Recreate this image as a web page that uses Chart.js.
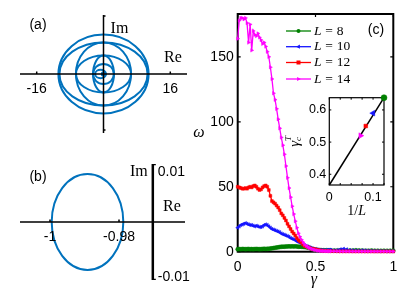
<!DOCTYPE html>
<html>
<head>
<meta charset="utf-8">
<script src="https://cdn.jsdelivr.net/npm/chart.js@4.4.1/dist/chart.umd.min.js"></script>
<style>
  html, body { margin: 0; padding: 0; background: #fff; }
  #wrap { position: relative; width: 415px; height: 297px; overflow: hidden; background: #fff; }
  #wrap canvas { position: absolute; left: 0; top: 0; }
</style>
</head>
<body>
<div id="wrap">
  <canvas id="panelA" width="415" height="297"></canvas>
  <canvas id="panelB" width="415" height="297"></canvas>
  <canvas id="panelC" width="415" height="297"></canvas>
  <canvas id="inset" width="415" height="297"></canvas>
</div>
<script>
// ---- data: panel (a), nested spectra ellipses ----
const aCenterRe = [0, 0, 0, 0, 0, 0, -0.7, 0];
const aCenterIm = [0, 0, 0, 0, 0, 0, 0, 0];
const aRadiusRe = [10.8, 10.55, 6.6, 6.6, 2.5, 2.5, 1.3, 0.4];
const aRadiusIm = [9.42, 7.55, 7.55, 4.4, 4.4, 2.4, 1.0, 0.4];
const aTicks = [-16, 16];

// ---- data: panel (b) ----
const bCenterRe = [-0.98913];
const bCenterIm = [0];
const bRadiusRe = [0.01038];
const bRadiusIm = [0.0091];
const bTicksRe = [-1, -0.98];
const bTickLabelsRe = ['-1', '-0.98'];
const bTicksIm = [0.01, -0.01];
const bTickLabelsIm = ['0.01', '-0.01'];
const bImAxisRe = -0.9702;

// ---- data: panel (c) ----
const gamma = [0, 0.01, 0.02, 0.03, 0.04, 0.05, 0.06, 0.07, 0.08, 0.09,
  0.10, 0.11, 0.12, 0.13, 0.14, 0.15, 0.16, 0.17, 0.18, 0.19,
  0.20, 0.21, 0.22, 0.23, 0.24, 0.25, 0.26, 0.27, 0.28, 0.29,
  0.30, 0.31, 0.32, 0.33, 0.34, 0.35, 0.36, 0.37, 0.38, 0.39,
  0.40, 0.41, 0.42, 0.43, 0.44, 0.45, 0.46, 0.47, 0.48, 0.49,
  0.50, 0.51, 0.52, 0.53, 0.54, 0.55, 0.56, 0.57, 0.58, 0.59,
  0.60, 0.62, 0.64, 0.66, 0.68, 0.70, 0.72, 0.74, 0.76, 0.78,
  0.80, 0.82, 0.84, 0.86, 0.88, 0.90, 0.92, 0.94, 0.96, 0.98, 1.00];

const omegaL8 = [1.9, 2.0, 1.9, 2.1, 2.0, 1.9, 2.0, 2.1, 1.9, 2.0,
  1.9, 2.0, 2.1, 2.0, 1.9, 2.0, 2.1, 2.2, 2.1, 2.2,
  2.3, 2.4, 2.6, 2.8, 3.0, 3.2, 3.4, 3.6, 3.8, 3.9,
  3.9, 4.0, 4.0, 4.1, 4.0, 4.1, 4.0, 4.1, 4.0, 3.9,
  3.9, 3.8, 3.7, 3.6, 3.4, 3.2, 2.9, 2.5, 2.1, 1.7,
  1.4, 1.3, 1.2, 1.2, 1.1, 1.1, 1.0, 1.1, 1.0, 1.0,
  1.0, 0.9, 1.0, 1.1, 1.0, 0.9, 0.9, 1.0, 1.1, 1.0,
  0.9, 0.8, 0.8, 0.9, 0.8, 0.8, 0.7, 0.8, 0.7, 0.8, 0.8];

const omegaL10 = [18.5, 19.5, 20.5, 21, 21.5, 22, 21.5, 21, 20.5, 20.5,
  20, 19.5, 20, 19.5, 19, 19, 19.5, 20.5, 21, 20.5,
  19.5, 18.5, 17.5, 17, 16.5, 16, 15.5, 15, 14, 13.5,
  13, 12.5, 12, 11.5, 10.5, 10, 9.5, 9, 8, 7.5,
  7, 6.5, 5.5, 5, 4.5, 4, 3.5, 3, 2.5, 2.2,
  2, 1.8, 1.5, 1.3, 1.2, 1.1, 1.0, 1.2, 1.4, 1.5,
  1.3, 1.0, 1.2, 1.8, 2.2, 1.8, 1.2, 1.0, 0.9, 0.8,
  1.0, 0.9, 0.7, 0.6, 0.5, 0.5, 0.4, 0.4, 0.3, 0.3, 0.3];

const omegaL12 = [50, 49.5, 49, 48.5, 48.5, 49, 48.5, 49.5, 50, 49.5,
  50.5, 51, 50, 48.5, 47.5, 48, 49.5, 50.5, 51, 50,
  47.5, 43, 39, 38, 37, 35.5, 34, 32, 29.5, 28,
  26, 24, 21.5, 19.5, 17.5, 15.5, 14, 12.5, 10.5, 9,
  8, 7, 5.5, 4.5, 4, 3.5, 3, 2.5, 2.2, 2,
  1.8, 1.5, 1.2, 1.0, 0.8, 0.7, 0.6, 0.5, 0.5, 0.4,
  0.4, 0.4, 0.3, 0.3, 0.3, 0.3, 0.3, 0.2, 0.2, 0.2,
  0.2, 0.2, 0.2, 0.2, 0.2, 0.2, 0.2, 0.2, 0.2, 0.2, 0.2];

const omegaL14 = [164, 178, 180, 180, 179, 180, 176, 161, 175, 155,
  170, 167, 166, 168, 165, 163, 160, 161, 158, 154,
  150, 142, 133, 122, 117, 110, 102, 95, 88, 82,
  75, 66, 57, 49, 42, 35, 29, 23.5, 18.5, 14.2,
  11.5, 9.2, 7.3, 5.5, 4.5, 3.6, 2.9, 2.4, 1.9, 1.5,
  1.2, 0.9, 0.7, 0.6, 0.5, 0.5, 0.4, 0.4, 0.3, 0.3,
  0.3, 0.3, 0.3, 0.2, 0.2, 0.2, 0.2, 0.2, 0.2, 0.2,
  0.2, 0.2, 0.2, 0.2, 0.2, 0.2, 0.2, 0.2, 0.2, 0.2, 0.2];

const sizeLabels = ['8', '10', '12', '14'];
const gammaTicks = [0, 0.5, 1];
const gammaTickLabels = ['0', '0.5', '1'];
const omegaTicks = [0, 50, 100, 150];

// ---- data: inset ----
const invL = [0.125, 0.1, 1 / 12, 1 / 14];
const gammaT = [0.638, 0.59, 0.55, 0.52];
const fitInvL = [0, 0.125];
const fitGammaT = [0.3666, 0.638];
const insetTicksX = [0, 0.025, 0.05, 0.075, 0.1, 0.125];
const insetLabelsX = {0: '0', 0.1: '0.1'};
const insetTicksY = [0.4, 0.5, 0.6];

const BLUE_M = '#0072BD';
const GREEN = '#008000';
const BLUE = '#1414ff';
const RED = '#ff0000';
const MAGENTA = '#ff00ff';
const SANS = '"Liberation Sans", Arial, sans-serif';
const SERIF = '"Liberation Serif", "Times New Roman", serif';

const seriesColors = [GREEN, BLUE, RED, MAGENTA];
const seriesStyles = ['circle', 'triangle', 'rect', 'triangle'];
const seriesRot = [0, -90, 0, 90];
const seriesData = [omegaL8, omegaL10, omegaL12, omegaL14];

function text(ctx, str, x, y, font, align, base) {
  ctx.font = font;
  ctx.textAlign = align || 'center';
  ctx.textBaseline = base || 'middle';
  ctx.fillStyle = '#000';
  ctx.fillText(str, x, y);
}

function marker(ctx, style, x, y, r, rot, color) {
  ctx.save();
  ctx.fillStyle = color;
  ctx.translate(x, y);
  ctx.rotate(rot * Math.PI / 180);
  ctx.beginPath();
  if (style === 'circle') {
    ctx.arc(0, 0, r, 0, Math.PI * 2);
  } else if (style === 'rect') {
    ctx.rect(-r, -r, 2 * r, 2 * r);
  } else {
    ctx.moveTo(0, -r * 1.2);
    ctx.lineTo(r * 1.05, r * 0.7);
    ctx.lineTo(-r * 1.05, r * 0.7);
    ctx.closePath();
  }
  ctx.fill();
  ctx.restore();
}

function drawEllipses(chart, cRe, cIm, rRe, rIm) {
  const {ctx, scales: {x, y}} = chart;
  ctx.save();
  ctx.strokeStyle = BLUE_M;
  ctx.lineWidth = 2;
  for (let i = 0; i < cRe.length; i++) {
    const cx = x.getPixelForValue(cRe[i]);
    const cy = y.getPixelForValue(cIm[i]);
    const rx = Math.abs(x.getPixelForValue(cRe[i] + rRe[i]) - cx);
    const ry = Math.abs(y.getPixelForValue(cIm[i] + rIm[i]) - cy);
    ctx.beginPath();
    ctx.ellipse(cx, cy, rx, ry, 0, 0, Math.PI * 2);
    ctx.stroke();
  }
  ctx.restore();
}

function baseOptions(pad, xr, yr) {
  return {
    responsive: false,
    animation: false,
    devicePixelRatio: 1,
    layout: {padding: pad},
    plugins: {legend: {display: false}, tooltip: {enabled: false}},
    scales: {
      x: {type: 'linear', display: false, min: xr[0], max: xr[1]},
      y: {type: 'linear', display: false, min: yr[0], max: yr[1]}
    }
  };
}

// ---- panel (a) ----
new Chart(document.getElementById('panelA'), {
  type: 'scatter',
  data: {datasets: []},
  options: baseOptions({left: 20, top: 15, right: 415 - 187, bottom: 297 - 133}, [-20, 20], [-14.1, 14.1]),
  plugins: [{
    id: 'ellipsesA',
    afterDraw(chart) {
      const {ctx, chartArea: a, scales: {x, y}} = chart;
      drawEllipses(chart, aCenterRe, aCenterIm, aRadiusRe, aRadiusIm);
      const x0 = x.getPixelForValue(0), y0 = y.getPixelForValue(0);
      ctx.save();
      ctx.strokeStyle = '#000';
      ctx.lineWidth = 1.5;
      ctx.beginPath();
      ctx.moveTo(a.left, y0); ctx.lineTo(a.right, y0);
      ctx.moveTo(x0, a.top); ctx.lineTo(x0, a.bottom);
      aTicks.forEach(t => {
        const px = x.getPixelForValue(t);
        ctx.moveTo(px, y0); ctx.lineTo(px, y0 - 2.5);
      });
      ctx.moveTo(x0, a.top + 1); ctx.lineTo(x0 + 2, a.top + 1);
      ctx.moveTo(x0, a.bottom - 3); ctx.lineTo(x0 + 2, a.bottom - 3);
      ctx.stroke();
      ctx.restore();
      aTicks.forEach(t => text(ctx, t < 0 ? '-' + Math.abs(t) : String(t), x.getPixelForValue(t), y0 + 15, '14px ' + SANS));
      text(ctx, 'Im', x0 + 16, 29, '16px ' + SERIF);
      text(ctx, 'Re', a.right - 14, 58, '16px ' + SERIF);
      text(ctx, '(a)', 38, 25, '14px ' + SANS);
    }
  }]
});

// ---- panel (b) ----
new Chart(document.getElementById('panelB'), {
  type: 'scatter',
  data: {datasets: []},
  options: baseOptions({left: 20, top: 164, right: 415 - 185, bottom: 297 - 280}, [-1.0087, -0.96087], [-0.011, 0.011]),
  plugins: [{
    id: 'ellipsesB',
    afterDraw(chart) {
      const {ctx, chartArea: a, scales: {x, y}} = chart;
      drawEllipses(chart, bCenterRe, bCenterIm, bRadiusRe, bRadiusIm);
      const y0 = y.getPixelForValue(0), xa = x.getPixelForValue(bImAxisRe);
      ctx.save();
      ctx.strokeStyle = '#000';
      ctx.lineWidth = 1.5;
      ctx.beginPath();
      ctx.moveTo(a.left, y0); ctx.lineTo(a.right, y0);
      bTicksRe.forEach(t => {
        const px = x.getPixelForValue(t);
        ctx.moveTo(px, y0); ctx.lineTo(px, y0 - 2.5);
      });
      ctx.stroke();
      ctx.lineWidth = 2.5;
      ctx.beginPath();
      ctx.moveTo(xa, a.top); ctx.lineTo(xa, a.bottom);
      ctx.stroke();
      ctx.lineWidth = 1.2;
      ctx.beginPath();
      ctx.moveTo(xa, a.top + 0.6); ctx.lineTo(xa + 3, a.top + 0.6);
      ctx.moveTo(xa, a.bottom - 0.6); ctx.lineTo(xa + 3, a.bottom - 0.6);
      ctx.stroke();
      ctx.restore();
      bTicksRe.forEach((t, i) => text(ctx, bTickLabelsRe[i], x.getPixelForValue(t), y0 + 15, '14px ' + SANS));
      bTicksIm.forEach((t, i) => text(ctx, bTickLabelsIm[i], xa + 5, y.getPixelForValue(t) + (t > 0 ? 3 : 2), '14px ' + SANS, 'left'));
      text(ctx, 'Im', xa - 14, 172, '16px ' + SERIF);
      text(ctx, 'Re', a.right - 13, 207, '16px ' + SERIF);
      text(ctx, '(b)', 38, 177, '14px ' + SANS);
    }
  }]
});

// ---- panel (c) ----
const cOpts = baseOptions({left: 237.7, top: 14, right: 415 - 393.3, bottom: 297 - 251.7}, [0, 1], [0, 183]);
new Chart(document.getElementById('panelC'), {
  type: 'line',
  data: {
    datasets: seriesData.map((vals, i) => ({
      data: vals.map((v, j) => ({x: gamma[j], y: v})),
      borderColor: seriesColors[i],
      backgroundColor: seriesColors[i],
      borderWidth: 1.3,
      pointRadius: 2,
      pointStyle: seriesStyles[i],
      pointRotation: seriesRot[i],
      pointBackgroundColor: seriesColors[i],
      pointBorderColor: seriesColors[i],
      pointBorderWidth: 0.5,
      tension: 0,
      clip: false,
      order: 3 - i
    }))
  },
  options: cOpts,
  plugins: [{
    id: 'frameC',
    beforeDatasetsDraw(chart) {
      const {ctx, chartArea: a, scales: {x, y}} = chart;
      ctx.save();
      ctx.strokeStyle = '#000';
      ctx.lineWidth = 2;
      ctx.strokeRect(a.left, a.top, a.right - a.left, a.bottom - a.top);
      ctx.lineWidth = 1.2;
      ctx.beginPath();
      gammaTicks.forEach(t => {
        const px = x.getPixelForValue(t);
        ctx.moveTo(px, a.bottom); ctx.lineTo(px, a.bottom - 3);
        ctx.moveTo(px, a.top); ctx.lineTo(px, a.top + 3);
      });
      omegaTicks.forEach(t => {
        const py = y.getPixelForValue(t);
        ctx.moveTo(a.left, py); ctx.lineTo(a.left + 3, py);
        ctx.moveTo(a.right, py); ctx.lineTo(a.right - 3, py);
      });
      ctx.stroke();
      ctx.restore();
    },
    afterDraw(chart) {
      const {ctx, chartArea: a, scales: {x, y}} = chart;
      gammaTicks.forEach((t, i) => text(ctx, gammaTickLabels[i], x.getPixelForValue(t), a.bottom + 15, '14px ' + SANS));
      omegaTicks.forEach(t => text(ctx, String(t), a.left - 4, y.getPixelForValue(t), '14px ' + SANS, 'right'));
      text(ctx, '\u03b3', (a.left + a.right) / 2 - 1.5, 284, 'italic 16px ' + SERIF, 'center', 'alphabetic');
      text(ctx, '\u03c9', 199, 133, 'italic 16px ' + SERIF);
      text(ctx, '(c)', 376, 30, '14px ' + SANS);
      // legend
      const rows = [31, 46.7, 62.5, 79];
      const fs = 13.5;
      rows.forEach((ry, i) => {
        ctx.save();
        ctx.strokeStyle = seriesColors[i];
        ctx.lineWidth = 1.3;
        ctx.beginPath(); ctx.moveTo(286, ry); ctx.lineTo(311, ry); ctx.stroke();
        ctx.restore();
        marker(ctx, seriesStyles[i], 298.5, ry, 2, seriesRot[i], seriesColors[i]);
        let tx = 314;
        ctx.font = 'italic ' + fs + 'px ' + SERIF;
        text(ctx, 'L', tx, ry, ctx.font, 'left');
        tx += ctx.measureText('L').width + fs * 0.28;
        text(ctx, '=', tx, ry, fs + 'px ' + SERIF, 'left');
        tx += ctx.measureText('=').width + fs * 0.28;
        text(ctx, sizeLabels[i], tx, ry, fs + 'px ' + SERIF, 'left');
      });
    }
  }]
});

// ---- inset ----
new Chart(document.getElementById('inset'), {
  type: 'scatter',
  data: {
    datasets: [
      {
        data: invL.map((v, i) => ({x: v, y: gammaT[i]})),
        pointStyle: seriesStyles.slice(),
        pointRotation: seriesRot.slice(),
        pointBackgroundColor: seriesColors.slice(),
        pointBorderColor: seriesColors.slice(),
        pointBorderWidth: 0.5,
        pointRadius: [3, 3.3, 2.6, 3.3],
        showLine: false,
        clip: false,
        order: 0
      },
      {
        type: 'line',
        data: fitInvL.map((v, i) => ({x: v, y: fitGammaT[i]})),
        borderColor: '#000',
        borderWidth: 1.5,
        pointRadius: 0,
        clip: false,
        order: 1
      }
    ]
  },
  options: baseOptions({left: 329.3, top: 97.7, right: 415 - 384, bottom: 297 - 185}, [0, 0.125], [0.3666, 0.638]),
  plugins: [{
    id: 'frameInset',
    beforeDatasetsDraw(chart) {
      const {ctx, chartArea: a, scales: {x, y}} = chart;
      ctx.save();
      ctx.fillStyle = '#fff';
      ctx.fillRect(a.left, a.top, a.right - a.left, a.bottom - a.top);
      ctx.strokeStyle = '#000';
      ctx.lineWidth = 1.2;
      ctx.strokeRect(a.left, a.top, a.right - a.left, a.bottom - a.top);
      ctx.lineWidth = 1;
      ctx.beginPath();
      insetTicksX.forEach(t => {
        const px = x.getPixelForValue(t);
        ctx.moveTo(px, a.bottom); ctx.lineTo(px, a.bottom - 2);
        ctx.moveTo(px, a.top); ctx.lineTo(px, a.top + 2);
      });
      insetTicksY.forEach(t => {
        const py = y.getPixelForValue(t);
        ctx.moveTo(a.left, py); ctx.lineTo(a.left + 2, py);
        ctx.moveTo(a.right, py); ctx.lineTo(a.right - 2, py);
      });
      ctx.stroke();
      ctx.restore();
    },
    afterDraw(chart) {
      const {ctx, chartArea: a, scales: {x, y}} = chart;
      insetTicksX.forEach(t => {
        if (insetLabelsX[t] !== undefined) text(ctx, insetLabelsX[t], x.getPixelForValue(t), a.bottom + 12.5, '12.5px ' + SANS);
      });
      insetTicksY.forEach(t => text(ctx, t.toFixed(1), a.left - 3, y.getPixelForValue(t), '12.5px ' + SANS, 'right'));
      // 1/L
      ctx.font = '14px ' + SERIF;
      const w1 = ctx.measureText('1/').width;
      ctx.font = 'italic 14px ' + SERIF;
      const w2 = ctx.measureText('L').width;
      const sx = (a.left + a.right) / 2 - (w1 + w2) / 2;
      text(ctx, '1/', sx, 211, '14px ' + SERIF, 'left');
      text(ctx, 'L', sx + w1, 211, 'italic 14px ' + SERIF, 'left');
      // gamma_c^T rotated
      ctx.save();
      ctx.translate(293, (a.top + a.bottom) / 2);
      ctx.rotate(-Math.PI / 2);
      ctx.font = 'italic 15px ' + SERIF;
      const gw = ctx.measureText('\u03b3').width;
      ctx.font = 'italic 9px ' + SERIF;
      const sw = ctx.measureText('T').width;
      const st = -(gw + sw) / 2;
      text(ctx, '\u03b3', st, 2, 'italic 15px ' + SERIF, 'left');
      text(ctx, 'T', st + gw, -4, 'italic 9px ' + SERIF, 'left');
      text(ctx, 'c', st + gw, 6, 'italic 9px ' + SERIF, 'left');
      ctx.restore();
    }
  }]
});
</script>
</body>
</html>
